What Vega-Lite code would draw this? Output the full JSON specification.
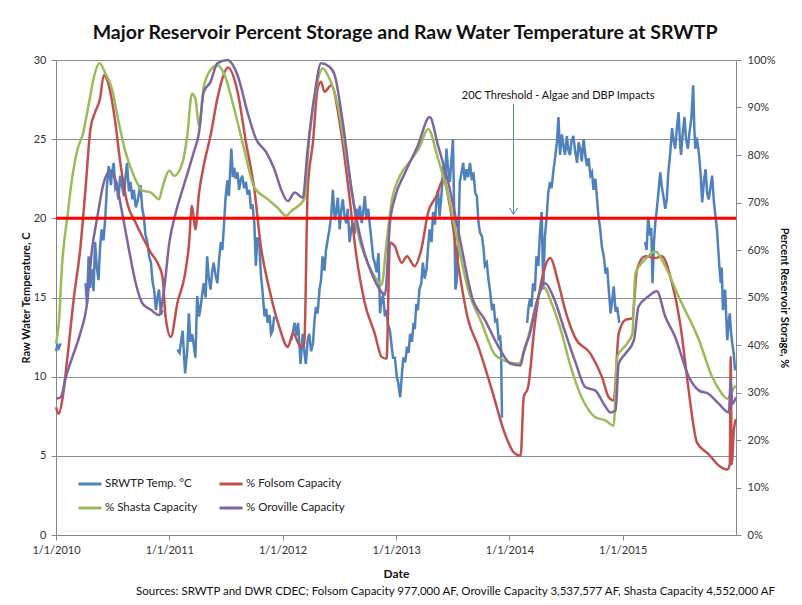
{
  "$schema": "https://vega.github.io/schema/vega-lite/v6.json",
  "width": 802,
  "height": 605,
  "autosize": {"type": "fit", "contains": "padding"},
  "padding": {"left": 20, "right": 12, "top": 22, "bottom": 8},
  "background": "white",
  "config": {
    "font": "Lato",
    "view": {"stroke": null},
    "legend": {
      "orient": "none", "legendX": 21, "legendY": 411, "columns": 2, "direction": "horizontal",
      "symbolType": "stroke", "symbolSize": 529, "symbolStrokeWidth": 3,
      "labelFontSize": 11.5, "labelFont": "Lato", "labelColor": "#222222", "labelOffset": 2,
      "columnPadding": 15, "rowPadding": 5, "padding": 0, "title": null
    }
  },
  "title": {
    "text": "Major Reservoir Percent Storage and Raw Water Temperature at SRWTP",
    "font": "Lato", "fontSize": 19.5, "fontWeight": "bold", "color": "#111111",
    "anchor": "middle", "frame": "bounds", "offset": 11, "dx": 0
  },
  "datasets": {
    "temp": [
      {"date": "2010-01-01", "series": "SRWTP Temp. °C", "value": 11.6},
      {"date": "2010-01-05", "series": "SRWTP Temp. °C", "value": 12.0},
      {"date": "2010-01-10", "series": "SRWTP Temp. °C", "value": 11.8},
      {"date": "2010-01-16", "series": "SRWTP Temp. °C", "value": 12.1},
      {"date": "2010-02-15", "series": "SRWTP Temp. °C", "value": null},
      {"date": "2010-04-06", "series": "SRWTP Temp. °C", "value": 15.9},
      {"date": "2010-04-11", "series": "SRWTP Temp. °C", "value": 14.6},
      {"date": "2010-04-16", "series": "SRWTP Temp. °C", "value": 17.6},
      {"date": "2010-04-21", "series": "SRWTP Temp. °C", "value": 15.6},
      {"date": "2010-04-27", "series": "SRWTP Temp. °C", "value": 16.8},
      {"date": "2010-05-02", "series": "SRWTP Temp. °C", "value": 15.4},
      {"date": "2010-05-07", "series": "SRWTP Temp. °C", "value": 18.5},
      {"date": "2010-05-12", "series": "SRWTP Temp. °C", "value": 17.0},
      {"date": "2010-05-18", "series": "SRWTP Temp. °C", "value": 16.1},
      {"date": "2010-05-23", "series": "SRWTP Temp. °C", "value": 18.2},
      {"date": "2010-05-28", "series": "SRWTP Temp. °C", "value": 19.3},
      {"date": "2010-06-03", "series": "SRWTP Temp. °C", "value": 18.6},
      {"date": "2010-06-09", "series": "SRWTP Temp. °C", "value": 20.1},
      {"date": "2010-06-14", "series": "SRWTP Temp. °C", "value": 22.0},
      {"date": "2010-06-20", "series": "SRWTP Temp. °C", "value": 23.3},
      {"date": "2010-06-27", "series": "SRWTP Temp. °C", "value": 22.1},
      {"date": "2010-07-01", "series": "SRWTP Temp. °C", "value": 23.0},
      {"date": "2010-07-06", "series": "SRWTP Temp. °C", "value": 23.5},
      {"date": "2010-07-11", "series": "SRWTP Temp. °C", "value": 21.9},
      {"date": "2010-07-16", "series": "SRWTP Temp. °C", "value": 22.1},
      {"date": "2010-07-21", "series": "SRWTP Temp. °C", "value": 21.2},
      {"date": "2010-07-27", "series": "SRWTP Temp. °C", "value": 22.7},
      {"date": "2010-08-02", "series": "SRWTP Temp. °C", "value": 22.0},
      {"date": "2010-08-08", "series": "SRWTP Temp. °C", "value": 21.4},
      {"date": "2010-08-13", "series": "SRWTP Temp. °C", "value": 22.6},
      {"date": "2010-08-18", "series": "SRWTP Temp. °C", "value": 23.5},
      {"date": "2010-08-24", "series": "SRWTP Temp. °C", "value": 21.7},
      {"date": "2010-08-29", "series": "SRWTP Temp. °C", "value": 22.3},
      {"date": "2010-09-04", "series": "SRWTP Temp. °C", "value": 21.2},
      {"date": "2010-09-09", "series": "SRWTP Temp. °C", "value": 21.8},
      {"date": "2010-09-15", "series": "SRWTP Temp. °C", "value": 20.7},
      {"date": "2010-09-20", "series": "SRWTP Temp. °C", "value": 21.0},
      {"date": "2010-09-30", "series": "SRWTP Temp. °C", "value": 22.1},
      {"date": "2010-10-06", "series": "SRWTP Temp. °C", "value": 20.6},
      {"date": "2010-10-11", "series": "SRWTP Temp. °C", "value": 20.1},
      {"date": "2010-10-16", "series": "SRWTP Temp. °C", "value": 19.0},
      {"date": "2010-10-22", "series": "SRWTP Temp. °C", "value": 18.5},
      {"date": "2010-10-28", "series": "SRWTP Temp. °C", "value": 17.6},
      {"date": "2010-11-03", "series": "SRWTP Temp. °C", "value": 17.2},
      {"date": "2010-11-08", "series": "SRWTP Temp. °C", "value": 16.0},
      {"date": "2010-11-13", "series": "SRWTP Temp. °C", "value": 15.5},
      {"date": "2010-11-19", "series": "SRWTP Temp. °C", "value": 14.2},
      {"date": "2010-11-24", "series": "SRWTP Temp. °C", "value": 15.0},
      {"date": "2010-11-29", "series": "SRWTP Temp. °C", "value": 15.5},
      {"date": "2010-12-05", "series": "SRWTP Temp. °C", "value": 13.9},
      {"date": "2010-12-10", "series": "SRWTP Temp. °C", "value": 14.2},
      {"date": "2010-12-25", "series": "SRWTP Temp. °C", "value": null},
      {"date": "2011-01-27", "series": "SRWTP Temp. °C", "value": 11.7},
      {"date": "2011-02-03", "series": "SRWTP Temp. °C", "value": 11.5},
      {"date": "2011-02-08", "series": "SRWTP Temp. °C", "value": 12.2},
      {"date": "2011-02-13", "series": "SRWTP Temp. °C", "value": 12.9},
      {"date": "2011-02-21", "series": "SRWTP Temp. °C", "value": 10.2},
      {"date": "2011-02-28", "series": "SRWTP Temp. °C", "value": 11.7},
      {"date": "2011-03-05", "series": "SRWTP Temp. °C", "value": 14.0},
      {"date": "2011-03-10", "series": "SRWTP Temp. °C", "value": 12.2},
      {"date": "2011-03-15", "series": "SRWTP Temp. °C", "value": 12.7},
      {"date": "2011-03-21", "series": "SRWTP Temp. °C", "value": 12.0},
      {"date": "2011-03-26", "series": "SRWTP Temp. °C", "value": 11.2},
      {"date": "2011-04-01", "series": "SRWTP Temp. °C", "value": 15.1},
      {"date": "2011-04-07", "series": "SRWTP Temp. °C", "value": 13.8},
      {"date": "2011-04-12", "series": "SRWTP Temp. °C", "value": 14.4},
      {"date": "2011-04-17", "series": "SRWTP Temp. °C", "value": 15.2},
      {"date": "2011-04-22", "series": "SRWTP Temp. °C", "value": 15.9},
      {"date": "2011-04-28", "series": "SRWTP Temp. °C", "value": 15.0},
      {"date": "2011-05-03", "series": "SRWTP Temp. °C", "value": 17.6},
      {"date": "2011-05-08", "series": "SRWTP Temp. °C", "value": 16.3},
      {"date": "2011-05-14", "series": "SRWTP Temp. °C", "value": 15.5},
      {"date": "2011-05-19", "series": "SRWTP Temp. °C", "value": 16.6},
      {"date": "2011-05-24", "series": "SRWTP Temp. °C", "value": 17.2},
      {"date": "2011-05-30", "series": "SRWTP Temp. °C", "value": 16.4},
      {"date": "2011-06-05", "series": "SRWTP Temp. °C", "value": 15.9},
      {"date": "2011-06-10", "series": "SRWTP Temp. °C", "value": 17.3},
      {"date": "2011-06-16", "series": "SRWTP Temp. °C", "value": 18.5},
      {"date": "2011-06-21", "series": "SRWTP Temp. °C", "value": 18.0},
      {"date": "2011-06-26", "series": "SRWTP Temp. °C", "value": 19.5},
      {"date": "2011-07-01", "series": "SRWTP Temp. °C", "value": 21.2},
      {"date": "2011-07-07", "series": "SRWTP Temp. °C", "value": 22.4},
      {"date": "2011-07-12", "series": "SRWTP Temp. °C", "value": 21.4},
      {"date": "2011-07-20", "series": "SRWTP Temp. °C", "value": 24.4},
      {"date": "2011-07-25", "series": "SRWTP Temp. °C", "value": 22.6},
      {"date": "2011-07-29", "series": "SRWTP Temp. °C", "value": 23.2},
      {"date": "2011-08-03", "series": "SRWTP Temp. °C", "value": 22.5},
      {"date": "2011-08-09", "series": "SRWTP Temp. °C", "value": 22.9},
      {"date": "2011-08-14", "series": "SRWTP Temp. °C", "value": 21.8},
      {"date": "2011-08-19", "series": "SRWTP Temp. °C", "value": 22.4},
      {"date": "2011-08-24", "series": "SRWTP Temp. °C", "value": 22.7},
      {"date": "2011-08-30", "series": "SRWTP Temp. °C", "value": 21.9},
      {"date": "2011-09-05", "series": "SRWTP Temp. °C", "value": 22.3},
      {"date": "2011-09-10", "series": "SRWTP Temp. °C", "value": 21.5},
      {"date": "2011-09-16", "series": "SRWTP Temp. °C", "value": 21.8},
      {"date": "2011-09-21", "series": "SRWTP Temp. °C", "value": 20.6},
      {"date": "2011-09-26", "series": "SRWTP Temp. °C", "value": 20.9},
      {"date": "2011-10-02", "series": "SRWTP Temp. °C", "value": 19.7},
      {"date": "2011-10-07", "series": "SRWTP Temp. °C", "value": 17.0},
      {"date": "2011-10-12", "series": "SRWTP Temp. °C", "value": 18.8},
      {"date": "2011-10-18", "series": "SRWTP Temp. °C", "value": 18.5},
      {"date": "2011-10-23", "series": "SRWTP Temp. °C", "value": 16.5},
      {"date": "2011-10-28", "series": "SRWTP Temp. °C", "value": 15.5},
      {"date": "2011-11-04", "series": "SRWTP Temp. °C", "value": 13.8},
      {"date": "2011-11-09", "series": "SRWTP Temp. °C", "value": 14.3},
      {"date": "2011-11-14", "series": "SRWTP Temp. °C", "value": 13.4},
      {"date": "2011-11-20", "series": "SRWTP Temp. °C", "value": 13.9},
      {"date": "2011-11-25", "series": "SRWTP Temp. °C", "value": 12.7},
      {"date": "2011-11-30", "series": "SRWTP Temp. °C", "value": 12.9},
      {"date": "2011-12-05", "series": "SRWTP Temp. °C", "value": 13.8},
      {"date": "2011-12-20", "series": "SRWTP Temp. °C", "value": null},
      {"date": "2012-01-29", "series": "SRWTP Temp. °C", "value": 12.3},
      {"date": "2012-02-04", "series": "SRWTP Temp. °C", "value": 12.9},
      {"date": "2012-02-09", "series": "SRWTP Temp. °C", "value": 13.4},
      {"date": "2012-02-14", "series": "SRWTP Temp. °C", "value": 12.6},
      {"date": "2012-02-20", "series": "SRWTP Temp. °C", "value": 13.4},
      {"date": "2012-02-28", "series": "SRWTP Temp. °C", "value": 10.8},
      {"date": "2012-03-06", "series": "SRWTP Temp. °C", "value": 12.7},
      {"date": "2012-03-11", "series": "SRWTP Temp. °C", "value": 11.6},
      {"date": "2012-03-16", "series": "SRWTP Temp. °C", "value": 10.8},
      {"date": "2012-03-22", "series": "SRWTP Temp. °C", "value": 12.3},
      {"date": "2012-03-27", "series": "SRWTP Temp. °C", "value": 12.7},
      {"date": "2012-04-02", "series": "SRWTP Temp. °C", "value": 11.6},
      {"date": "2012-04-08", "series": "SRWTP Temp. °C", "value": 12.1},
      {"date": "2012-04-13", "series": "SRWTP Temp. °C", "value": 13.6},
      {"date": "2012-04-18", "series": "SRWTP Temp. °C", "value": 14.4},
      {"date": "2012-04-23", "series": "SRWTP Temp. °C", "value": 14.0},
      {"date": "2012-04-29", "series": "SRWTP Temp. °C", "value": 15.5},
      {"date": "2012-05-04", "series": "SRWTP Temp. °C", "value": 16.1},
      {"date": "2012-05-09", "series": "SRWTP Temp. °C", "value": 17.6},
      {"date": "2012-05-15", "series": "SRWTP Temp. °C", "value": 16.7},
      {"date": "2012-05-20", "series": "SRWTP Temp. °C", "value": 18.0},
      {"date": "2012-05-25", "series": "SRWTP Temp. °C", "value": 18.6},
      {"date": "2012-05-31", "series": "SRWTP Temp. °C", "value": 19.3},
      {"date": "2012-06-06", "series": "SRWTP Temp. °C", "value": 20.2},
      {"date": "2012-06-11", "series": "SRWTP Temp. °C", "value": 21.8},
      {"date": "2012-06-17", "series": "SRWTP Temp. °C", "value": 19.9},
      {"date": "2012-06-22", "series": "SRWTP Temp. °C", "value": 20.4},
      {"date": "2012-06-27", "series": "SRWTP Temp. °C", "value": 21.3},
      {"date": "2012-07-03", "series": "SRWTP Temp. °C", "value": 19.3},
      {"date": "2012-07-08", "series": "SRWTP Temp. °C", "value": 20.5},
      {"date": "2012-07-13", "series": "SRWTP Temp. °C", "value": 21.2},
      {"date": "2012-07-19", "series": "SRWTP Temp. °C", "value": 20.1},
      {"date": "2012-07-24", "series": "SRWTP Temp. °C", "value": 19.7},
      {"date": "2012-07-29", "series": "SRWTP Temp. °C", "value": 20.6},
      {"date": "2012-08-04", "series": "SRWTP Temp. °C", "value": 18.5},
      {"date": "2012-08-10", "series": "SRWTP Temp. °C", "value": 19.4},
      {"date": "2012-08-15", "series": "SRWTP Temp. °C", "value": 19.7},
      {"date": "2012-08-20", "series": "SRWTP Temp. °C", "value": 19.0},
      {"date": "2012-08-26", "series": "SRWTP Temp. °C", "value": 20.6},
      {"date": "2012-09-01", "series": "SRWTP Temp. °C", "value": 20.0},
      {"date": "2012-09-06", "series": "SRWTP Temp. °C", "value": 20.8},
      {"date": "2012-09-12", "series": "SRWTP Temp. °C", "value": 19.7},
      {"date": "2012-09-17", "series": "SRWTP Temp. °C", "value": 20.4},
      {"date": "2012-09-22", "series": "SRWTP Temp. °C", "value": 21.4},
      {"date": "2012-09-27", "series": "SRWTP Temp. °C", "value": 20.0},
      {"date": "2012-10-03", "series": "SRWTP Temp. °C", "value": 20.6},
      {"date": "2012-10-08", "series": "SRWTP Temp. °C", "value": 19.6},
      {"date": "2012-10-14", "series": "SRWTP Temp. °C", "value": 18.5},
      {"date": "2012-10-19", "series": "SRWTP Temp. °C", "value": 17.5},
      {"date": "2012-10-24", "series": "SRWTP Temp. °C", "value": 17.2},
      {"date": "2012-10-30", "series": "SRWTP Temp. °C", "value": 16.6},
      {"date": "2012-11-05", "series": "SRWTP Temp. °C", "value": 17.8},
      {"date": "2012-11-10", "series": "SRWTP Temp. °C", "value": 14.0},
      {"date": "2012-11-15", "series": "SRWTP Temp. °C", "value": 14.9},
      {"date": "2012-11-20", "series": "SRWTP Temp. °C", "value": 15.1},
      {"date": "2012-11-26", "series": "SRWTP Temp. °C", "value": 13.8},
      {"date": "2012-12-01", "series": "SRWTP Temp. °C", "value": 14.2},
      {"date": "2012-12-06", "series": "SRWTP Temp. °C", "value": 13.3},
      {"date": "2012-12-12", "series": "SRWTP Temp. °C", "value": 12.9},
      {"date": "2012-12-17", "series": "SRWTP Temp. °C", "value": 12.0},
      {"date": "2012-12-22", "series": "SRWTP Temp. °C", "value": 11.2},
      {"date": "2012-12-28", "series": "SRWTP Temp. °C", "value": 11.2},
      {"date": "2013-01-03", "series": "SRWTP Temp. °C", "value": 10.0},
      {"date": "2013-01-08", "series": "SRWTP Temp. °C", "value": 9.6},
      {"date": "2013-01-14", "series": "SRWTP Temp. °C", "value": 8.7},
      {"date": "2013-01-19", "series": "SRWTP Temp. °C", "value": 10.0},
      {"date": "2013-01-24", "series": "SRWTP Temp. °C", "value": 11.2},
      {"date": "2013-01-30", "series": "SRWTP Temp. °C", "value": 10.9},
      {"date": "2013-02-05", "series": "SRWTP Temp. °C", "value": 11.9},
      {"date": "2013-02-10", "series": "SRWTP Temp. °C", "value": 11.5},
      {"date": "2013-02-15", "series": "SRWTP Temp. °C", "value": 12.7},
      {"date": "2013-02-21", "series": "SRWTP Temp. °C", "value": 12.2},
      {"date": "2013-02-26", "series": "SRWTP Temp. °C", "value": 13.4},
      {"date": "2013-03-02", "series": "SRWTP Temp. °C", "value": 13.0},
      {"date": "2013-03-07", "series": "SRWTP Temp. °C", "value": 14.6},
      {"date": "2013-03-12", "series": "SRWTP Temp. °C", "value": 14.2},
      {"date": "2013-03-17", "series": "SRWTP Temp. °C", "value": 15.5},
      {"date": "2013-03-23", "series": "SRWTP Temp. °C", "value": 15.9},
      {"date": "2013-03-28", "series": "SRWTP Temp. °C", "value": 17.2},
      {"date": "2013-04-03", "series": "SRWTP Temp. °C", "value": 16.2},
      {"date": "2013-04-09", "series": "SRWTP Temp. °C", "value": 16.8},
      {"date": "2013-04-14", "series": "SRWTP Temp. °C", "value": 18.2},
      {"date": "2013-04-19", "series": "SRWTP Temp. °C", "value": 19.3},
      {"date": "2013-04-25", "series": "SRWTP Temp. °C", "value": 18.5},
      {"date": "2013-04-30", "series": "SRWTP Temp. °C", "value": 20.4},
      {"date": "2013-05-06", "series": "SRWTP Temp. °C", "value": 19.6},
      {"date": "2013-05-11", "series": "SRWTP Temp. °C", "value": 21.2},
      {"date": "2013-05-16", "series": "SRWTP Temp. °C", "value": 21.8},
      {"date": "2013-05-21", "series": "SRWTP Temp. °C", "value": 20.1},
      {"date": "2013-05-27", "series": "SRWTP Temp. °C", "value": 21.5},
      {"date": "2013-06-02", "series": "SRWTP Temp. °C", "value": 23.3},
      {"date": "2013-06-07", "series": "SRWTP Temp. °C", "value": 22.2},
      {"date": "2013-06-12", "series": "SRWTP Temp. °C", "value": 24.4},
      {"date": "2013-06-18", "series": "SRWTP Temp. °C", "value": 23.0},
      {"date": "2013-06-23", "series": "SRWTP Temp. °C", "value": 22.3},
      {"date": "2013-06-28", "series": "SRWTP Temp. °C", "value": 23.7},
      {"date": "2013-07-03", "series": "SRWTP Temp. °C", "value": 25.0},
      {"date": "2013-07-07", "series": "SRWTP Temp. °C", "value": 20.5},
      {"date": "2013-07-11", "series": "SRWTP Temp. °C", "value": 15.5},
      {"date": "2013-07-15", "series": "SRWTP Temp. °C", "value": 16.0},
      {"date": "2013-07-19", "series": "SRWTP Temp. °C", "value": 17.6},
      {"date": "2013-07-25", "series": "SRWTP Temp. °C", "value": 22.3},
      {"date": "2013-07-30", "series": "SRWTP Temp. °C", "value": 22.8},
      {"date": "2013-08-05", "series": "SRWTP Temp. °C", "value": 23.5},
      {"date": "2013-08-10", "series": "SRWTP Temp. °C", "value": 22.4},
      {"date": "2013-08-16", "series": "SRWTP Temp. °C", "value": 23.1},
      {"date": "2013-08-21", "series": "SRWTP Temp. °C", "value": 22.6},
      {"date": "2013-08-27", "series": "SRWTP Temp. °C", "value": 23.5},
      {"date": "2013-09-02", "series": "SRWTP Temp. °C", "value": 22.4},
      {"date": "2013-09-07", "series": "SRWTP Temp. °C", "value": 22.9},
      {"date": "2013-09-13", "series": "SRWTP Temp. °C", "value": 21.6},
      {"date": "2013-09-18", "series": "SRWTP Temp. °C", "value": 21.4},
      {"date": "2013-09-23", "series": "SRWTP Temp. °C", "value": 19.8},
      {"date": "2013-09-28", "series": "SRWTP Temp. °C", "value": 19.1},
      {"date": "2013-10-04", "series": "SRWTP Temp. °C", "value": 18.9},
      {"date": "2013-10-09", "series": "SRWTP Temp. °C", "value": 18.2},
      {"date": "2013-10-14", "series": "SRWTP Temp. °C", "value": 17.0},
      {"date": "2013-10-20", "series": "SRWTP Temp. °C", "value": 17.2},
      {"date": "2013-10-25", "series": "SRWTP Temp. °C", "value": 16.2},
      {"date": "2013-10-30", "series": "SRWTP Temp. °C", "value": 15.5},
      {"date": "2013-11-06", "series": "SRWTP Temp. °C", "value": 14.2},
      {"date": "2013-11-11", "series": "SRWTP Temp. °C", "value": 14.6},
      {"date": "2013-11-16", "series": "SRWTP Temp. °C", "value": 13.5},
      {"date": "2013-11-22", "series": "SRWTP Temp. °C", "value": 13.6},
      {"date": "2013-11-27", "series": "SRWTP Temp. °C", "value": 12.4},
      {"date": "2013-12-02", "series": "SRWTP Temp. °C", "value": 12.5},
      {"date": "2013-12-05", "series": "SRWTP Temp. °C", "value": 11.8},
      {"date": "2013-12-08", "series": "SRWTP Temp. °C", "value": 7.4},
      {"date": "2014-01-15", "series": "SRWTP Temp. °C", "value": null},
      {"date": "2014-02-27", "series": "SRWTP Temp. °C", "value": 13.4},
      {"date": "2014-03-03", "series": "SRWTP Temp. °C", "value": 14.3},
      {"date": "2014-03-08", "series": "SRWTP Temp. °C", "value": 14.9},
      {"date": "2014-03-13", "series": "SRWTP Temp. °C", "value": 14.4},
      {"date": "2014-03-18", "series": "SRWTP Temp. °C", "value": 15.9},
      {"date": "2014-03-24", "series": "SRWTP Temp. °C", "value": 15.4},
      {"date": "2014-03-29", "series": "SRWTP Temp. °C", "value": 17.6},
      {"date": "2014-04-04", "series": "SRWTP Temp. °C", "value": 17.0},
      {"date": "2014-04-10", "series": "SRWTP Temp. °C", "value": 19.3},
      {"date": "2014-04-15", "series": "SRWTP Temp. °C", "value": 20.4},
      {"date": "2014-04-20", "series": "SRWTP Temp. °C", "value": 15.5},
      {"date": "2014-04-25", "series": "SRWTP Temp. °C", "value": 18.8},
      {"date": "2014-05-01", "series": "SRWTP Temp. °C", "value": 20.1},
      {"date": "2014-05-06", "series": "SRWTP Temp. °C", "value": 21.6},
      {"date": "2014-05-12", "series": "SRWTP Temp. °C", "value": 22.3},
      {"date": "2014-05-17", "series": "SRWTP Temp. °C", "value": 21.9},
      {"date": "2014-05-22", "series": "SRWTP Temp. °C", "value": 22.9},
      {"date": "2014-05-28", "series": "SRWTP Temp. °C", "value": 23.8},
      {"date": "2014-06-03", "series": "SRWTP Temp. °C", "value": 24.8},
      {"date": "2014-06-08", "series": "SRWTP Temp. °C", "value": 26.4},
      {"date": "2014-06-13", "series": "SRWTP Temp. °C", "value": 24.0},
      {"date": "2014-06-19", "series": "SRWTP Temp. °C", "value": 25.3},
      {"date": "2014-06-24", "series": "SRWTP Temp. °C", "value": 24.6},
      {"date": "2014-06-29", "series": "SRWTP Temp. °C", "value": 24.0},
      {"date": "2014-07-05", "series": "SRWTP Temp. °C", "value": 25.2},
      {"date": "2014-07-10", "series": "SRWTP Temp. °C", "value": 24.3},
      {"date": "2014-07-15", "series": "SRWTP Temp. °C", "value": 24.0},
      {"date": "2014-07-20", "series": "SRWTP Temp. °C", "value": 24.9},
      {"date": "2014-07-26", "series": "SRWTP Temp. °C", "value": 25.2},
      {"date": "2014-08-01", "series": "SRWTP Temp. °C", "value": 24.2},
      {"date": "2014-08-07", "series": "SRWTP Temp. °C", "value": 23.5},
      {"date": "2014-08-12", "series": "SRWTP Temp. °C", "value": 24.8},
      {"date": "2014-08-17", "series": "SRWTP Temp. °C", "value": 24.4},
      {"date": "2014-08-22", "series": "SRWTP Temp. °C", "value": 23.6},
      {"date": "2014-08-28", "series": "SRWTP Temp. °C", "value": 25.0},
      {"date": "2014-09-03", "series": "SRWTP Temp. °C", "value": 23.9},
      {"date": "2014-09-08", "series": "SRWTP Temp. °C", "value": 23.3},
      {"date": "2014-09-13", "series": "SRWTP Temp. °C", "value": 23.8},
      {"date": "2014-09-19", "series": "SRWTP Temp. °C", "value": 22.7},
      {"date": "2014-09-24", "series": "SRWTP Temp. °C", "value": 22.9},
      {"date": "2014-09-29", "series": "SRWTP Temp. °C", "value": 21.8},
      {"date": "2014-10-05", "series": "SRWTP Temp. °C", "value": 22.5},
      {"date": "2014-10-10", "series": "SRWTP Temp. °C", "value": 21.3},
      {"date": "2014-10-15", "series": "SRWTP Temp. °C", "value": 20.1},
      {"date": "2014-10-20", "series": "SRWTP Temp. °C", "value": 19.4},
      {"date": "2014-10-26", "series": "SRWTP Temp. °C", "value": 18.2},
      {"date": "2014-11-01", "series": "SRWTP Temp. °C", "value": 17.6},
      {"date": "2014-11-07", "series": "SRWTP Temp. °C", "value": 16.5},
      {"date": "2014-11-12", "series": "SRWTP Temp. °C", "value": 16.9},
      {"date": "2014-11-17", "series": "SRWTP Temp. °C", "value": 15.5},
      {"date": "2014-11-23", "series": "SRWTP Temp. °C", "value": 14.0},
      {"date": "2014-11-28", "series": "SRWTP Temp. °C", "value": 14.8},
      {"date": "2014-12-03", "series": "SRWTP Temp. °C", "value": 15.7},
      {"date": "2014-12-09", "series": "SRWTP Temp. °C", "value": 14.1},
      {"date": "2014-12-14", "series": "SRWTP Temp. °C", "value": 14.4},
      {"date": "2014-12-21", "series": "SRWTP Temp. °C", "value": 13.4},
      {"date": "2015-02-01", "series": "SRWTP Temp. °C", "value": null},
      {"date": "2015-03-14", "series": "SRWTP Temp. °C", "value": 18.5},
      {"date": "2015-03-19", "series": "SRWTP Temp. °C", "value": 18.0},
      {"date": "2015-03-24", "series": "SRWTP Temp. °C", "value": 20.1},
      {"date": "2015-03-30", "series": "SRWTP Temp. °C", "value": 18.9},
      {"date": "2015-04-03", "series": "SRWTP Temp. °C", "value": 19.4},
      {"date": "2015-04-07", "series": "SRWTP Temp. °C", "value": 15.9},
      {"date": "2015-04-12", "series": "SRWTP Temp. °C", "value": 18.6},
      {"date": "2015-04-16", "series": "SRWTP Temp. °C", "value": 19.7},
      {"date": "2015-04-20", "series": "SRWTP Temp. °C", "value": 20.4},
      {"date": "2015-04-24", "series": "SRWTP Temp. °C", "value": 21.2},
      {"date": "2015-05-02", "series": "SRWTP Temp. °C", "value": 22.9},
      {"date": "2015-05-07", "series": "SRWTP Temp. °C", "value": 22.0},
      {"date": "2015-05-12", "series": "SRWTP Temp. °C", "value": 21.4},
      {"date": "2015-05-18", "series": "SRWTP Temp. °C", "value": 20.6},
      {"date": "2015-05-23", "series": "SRWTP Temp. °C", "value": 21.2},
      {"date": "2015-05-28", "series": "SRWTP Temp. °C", "value": 22.9},
      {"date": "2015-06-03", "series": "SRWTP Temp. °C", "value": 24.1},
      {"date": "2015-06-09", "series": "SRWTP Temp. °C", "value": 25.7},
      {"date": "2015-06-14", "series": "SRWTP Temp. °C", "value": 24.9},
      {"date": "2015-06-19", "series": "SRWTP Temp. °C", "value": 24.4},
      {"date": "2015-06-24", "series": "SRWTP Temp. °C", "value": 25.6},
      {"date": "2015-06-30", "series": "SRWTP Temp. °C", "value": 26.7},
      {"date": "2015-07-05", "series": "SRWTP Temp. °C", "value": 24.6},
      {"date": "2015-07-08", "series": "SRWTP Temp. °C", "value": 24.0},
      {"date": "2015-07-13", "series": "SRWTP Temp. °C", "value": 25.3},
      {"date": "2015-07-19", "series": "SRWTP Temp. °C", "value": 26.4},
      {"date": "2015-07-24", "series": "SRWTP Temp. °C", "value": 25.0},
      {"date": "2015-07-30", "series": "SRWTP Temp. °C", "value": 24.4},
      {"date": "2015-08-04", "series": "SRWTP Temp. °C", "value": 25.4},
      {"date": "2015-08-10", "series": "SRWTP Temp. °C", "value": 26.3},
      {"date": "2015-08-16", "series": "SRWTP Temp. °C", "value": 28.4},
      {"date": "2015-08-20", "series": "SRWTP Temp. °C", "value": 25.5},
      {"date": "2015-08-23", "series": "SRWTP Temp. °C", "value": 24.4},
      {"date": "2015-08-28", "series": "SRWTP Temp. °C", "value": 25.1},
      {"date": "2015-09-04", "series": "SRWTP Temp. °C", "value": 24.0},
      {"date": "2015-09-09", "series": "SRWTP Temp. °C", "value": 22.8},
      {"date": "2015-09-14", "series": "SRWTP Temp. °C", "value": 21.0},
      {"date": "2015-09-20", "series": "SRWTP Temp. °C", "value": 22.4},
      {"date": "2015-09-25", "series": "SRWTP Temp. °C", "value": 23.1},
      {"date": "2015-09-30", "series": "SRWTP Temp. °C", "value": 21.6},
      {"date": "2015-10-05", "series": "SRWTP Temp. °C", "value": 21.2},
      {"date": "2015-10-11", "series": "SRWTP Temp. °C", "value": 22.0},
      {"date": "2015-10-16", "series": "SRWTP Temp. °C", "value": 22.7},
      {"date": "2015-10-22", "series": "SRWTP Temp. °C", "value": 21.0},
      {"date": "2015-10-27", "series": "SRWTP Temp. °C", "value": 20.1},
      {"date": "2015-11-01", "series": "SRWTP Temp. °C", "value": 19.2},
      {"date": "2015-11-05", "series": "SRWTP Temp. °C", "value": 18.0},
      {"date": "2015-11-09", "series": "SRWTP Temp. °C", "value": 16.8},
      {"date": "2015-11-13", "series": "SRWTP Temp. °C", "value": 15.9},
      {"date": "2015-11-16", "series": "SRWTP Temp. °C", "value": 16.9},
      {"date": "2015-11-20", "series": "SRWTP Temp. °C", "value": 14.2},
      {"date": "2015-11-27", "series": "SRWTP Temp. °C", "value": 15.5},
      {"date": "2015-12-01", "series": "SRWTP Temp. °C", "value": 13.6},
      {"date": "2015-12-04", "series": "SRWTP Temp. °C", "value": 12.3},
      {"date": "2015-12-08", "series": "SRWTP Temp. °C", "value": 13.4},
      {"date": "2015-12-12", "series": "SRWTP Temp. °C", "value": 14.0},
      {"date": "2015-12-16", "series": "SRWTP Temp. °C", "value": 12.8},
      {"date": "2015-12-20", "series": "SRWTP Temp. °C", "value": 12.1},
      {"date": "2015-12-25", "series": "SRWTP Temp. °C", "value": 11.4},
      {"date": "2015-12-29", "series": "SRWTP Temp. °C", "value": 10.4}
    ],
    "storage": [
      {"date": "2010-01-01", "series": "% Folsom Capacity", "value": 26.9},
      {"date": "2010-01-10", "series": "% Folsom Capacity", "value": 25.5},
      {"date": "2010-01-21", "series": "% Folsom Capacity", "value": 28.3},
      {"date": "2010-02-07", "series": "% Folsom Capacity", "value": 37.5},
      {"date": "2010-02-28", "series": "% Folsom Capacity", "value": 50.2},
      {"date": "2010-03-20", "series": "% Folsom Capacity", "value": 60.1},
      {"date": "2010-04-06", "series": "% Folsom Capacity", "value": 72.8},
      {"date": "2010-04-22", "series": "% Folsom Capacity", "value": 85.5},
      {"date": "2010-05-07", "series": "% Folsom Capacity", "value": 89.0},
      {"date": "2010-05-23", "series": "% Folsom Capacity", "value": 91.9},
      {"date": "2010-06-04", "series": "% Folsom Capacity", "value": 96.8},
      {"date": "2010-06-20", "series": "% Folsom Capacity", "value": 94.7},
      {"date": "2010-07-11", "series": "% Folsom Capacity", "value": 86.9},
      {"date": "2010-07-27", "series": "% Folsom Capacity", "value": 78.5},
      {"date": "2010-08-18", "series": "% Folsom Capacity", "value": 70.0},
      {"date": "2010-09-15", "series": "% Folsom Capacity", "value": 65.7},
      {"date": "2010-10-11", "series": "% Folsom Capacity", "value": 62.2},
      {"date": "2010-11-03", "series": "% Folsom Capacity", "value": 59.4},
      {"date": "2010-11-24", "series": "% Folsom Capacity", "value": 57.3},
      {"date": "2010-12-10", "series": "% Folsom Capacity", "value": 54.4},
      {"date": "2010-12-20", "series": "% Folsom Capacity", "value": 46.0},
      {"date": "2011-01-06", "series": "% Folsom Capacity", "value": 41.7},
      {"date": "2011-01-27", "series": "% Folsom Capacity", "value": 48.8},
      {"date": "2011-02-19", "series": "% Folsom Capacity", "value": 54.4},
      {"date": "2011-03-05", "series": "% Folsom Capacity", "value": 60.8},
      {"date": "2011-03-15", "series": "% Folsom Capacity", "value": 69.3},
      {"date": "2011-03-26", "series": "% Folsom Capacity", "value": 64.3},
      {"date": "2011-04-07", "series": "% Folsom Capacity", "value": 72.1},
      {"date": "2011-04-22", "series": "% Folsom Capacity", "value": 77.8},
      {"date": "2011-05-14", "series": "% Folsom Capacity", "value": 84.1},
      {"date": "2011-06-05", "series": "% Folsom Capacity", "value": 91.9},
      {"date": "2011-06-21", "series": "% Folsom Capacity", "value": 96.1},
      {"date": "2011-07-09", "series": "% Folsom Capacity", "value": 98.4},
      {"date": "2011-08-09", "series": "% Folsom Capacity", "value": 93.3},
      {"date": "2011-09-05", "series": "% Folsom Capacity", "value": 82.7},
      {"date": "2011-10-02", "series": "% Folsom Capacity", "value": 72.8},
      {"date": "2011-10-23", "series": "% Folsom Capacity", "value": 60.8},
      {"date": "2011-11-20", "series": "% Folsom Capacity", "value": 51.6},
      {"date": "2011-12-21", "series": "% Folsom Capacity", "value": 43.9},
      {"date": "2012-01-18", "series": "% Folsom Capacity", "value": 39.6},
      {"date": "2012-02-04", "series": "% Folsom Capacity", "value": 42.4},
      {"date": "2012-02-29", "series": "% Folsom Capacity", "value": 39.6},
      {"date": "2012-03-11", "series": "% Folsom Capacity", "value": 40.3},
      {"date": "2012-03-22", "series": "% Folsom Capacity", "value": 72.8},
      {"date": "2012-04-08", "series": "% Folsom Capacity", "value": 82.7},
      {"date": "2012-04-23", "series": "% Folsom Capacity", "value": 94.0},
      {"date": "2012-05-04", "series": "% Folsom Capacity", "value": 95.4},
      {"date": "2012-05-15", "series": "% Folsom Capacity", "value": 93.3},
      {"date": "2012-06-06", "series": "% Folsom Capacity", "value": 94.7},
      {"date": "2012-07-03", "series": "% Folsom Capacity", "value": 86.9},
      {"date": "2012-07-29", "series": "% Folsom Capacity", "value": 74.2},
      {"date": "2012-08-26", "series": "% Folsom Capacity", "value": 58.7},
      {"date": "2012-09-22", "series": "% Folsom Capacity", "value": 48.8},
      {"date": "2012-10-24", "series": "% Folsom Capacity", "value": 42.4},
      {"date": "2012-11-15", "series": "% Folsom Capacity", "value": 37.5},
      {"date": "2012-12-01", "series": "% Folsom Capacity", "value": 37.1},
      {"date": "2012-12-12", "series": "% Folsom Capacity", "value": 61.5},
      {"date": "2012-12-28", "series": "% Folsom Capacity", "value": 60.8},
      {"date": "2013-01-08", "series": "% Folsom Capacity", "value": 58.7},
      {"date": "2013-01-19", "series": "% Folsom Capacity", "value": 57.3},
      {"date": "2013-02-05", "series": "% Folsom Capacity", "value": 58.7},
      {"date": "2013-03-01", "series": "% Folsom Capacity", "value": 56.6},
      {"date": "2013-03-23", "series": "% Folsom Capacity", "value": 60.1},
      {"date": "2013-04-14", "series": "% Folsom Capacity", "value": 67.9},
      {"date": "2013-05-11", "series": "% Folsom Capacity", "value": 71.4},
      {"date": "2013-06-02", "series": "% Folsom Capacity", "value": 74.9},
      {"date": "2013-06-23", "series": "% Folsom Capacity", "value": 69.3},
      {"date": "2013-07-19", "series": "% Folsom Capacity", "value": 57.3},
      {"date": "2013-08-21", "series": "% Folsom Capacity", "value": 45.3},
      {"date": "2013-09-23", "series": "% Folsom Capacity", "value": 39.6},
      {"date": "2013-11-06", "series": "% Folsom Capacity", "value": 30.4},
      {"date": "2013-12-18", "series": "% Folsom Capacity", "value": 21.2},
      {"date": "2014-01-15", "series": "% Folsom Capacity", "value": 17.4},
      {"date": "2014-02-06", "series": "% Folsom Capacity", "value": 16.7},
      {"date": "2014-02-16", "series": "% Folsom Capacity", "value": 29.0},
      {"date": "2014-03-02", "series": "% Folsom Capacity", "value": 31.1},
      {"date": "2014-03-24", "series": "% Folsom Capacity", "value": 44.6},
      {"date": "2014-04-20", "series": "% Folsom Capacity", "value": 55.1},
      {"date": "2014-05-12", "series": "% Folsom Capacity", "value": 58.3},
      {"date": "2014-06-08", "series": "% Folsom Capacity", "value": 53.0},
      {"date": "2014-06-29", "series": "% Folsom Capacity", "value": 47.5},
      {"date": "2014-08-01", "series": "% Folsom Capacity", "value": 41.5},
      {"date": "2014-09-19", "series": "% Folsom Capacity", "value": 38.2},
      {"date": "2014-10-26", "series": "% Folsom Capacity", "value": 33.3},
      {"date": "2014-11-17", "series": "% Folsom Capacity", "value": 29.0},
      {"date": "2014-12-03", "series": "% Folsom Capacity", "value": 28.3},
      {"date": "2014-12-19", "series": "% Folsom Capacity", "value": 42.4},
      {"date": "2015-01-10", "series": "% Folsom Capacity", "value": 45.3},
      {"date": "2015-02-01", "series": "% Folsom Capacity", "value": 45.6},
      {"date": "2015-02-16", "series": "% Folsom Capacity", "value": 55.9},
      {"date": "2015-03-14", "series": "% Folsom Capacity", "value": 58.7},
      {"date": "2015-04-16", "series": "% Folsom Capacity", "value": 58.3},
      {"date": "2015-05-07", "series": "% Folsom Capacity", "value": 58.7},
      {"date": "2015-06-09", "series": "% Folsom Capacity", "value": 53.0},
      {"date": "2015-07-05", "series": "% Folsom Capacity", "value": 44.6},
      {"date": "2015-07-27", "series": "% Folsom Capacity", "value": 33.3},
      {"date": "2015-08-13", "series": "% Folsom Capacity", "value": 24.8},
      {"date": "2015-08-28", "series": "% Folsom Capacity", "value": 19.5},
      {"date": "2015-10-05", "series": "% Folsom Capacity", "value": 17.0},
      {"date": "2015-11-07", "series": "% Folsom Capacity", "value": 14.6},
      {"date": "2015-12-04", "series": "% Folsom Capacity", "value": 13.8},
      {"date": "2015-12-12", "series": "% Folsom Capacity", "value": 14.9},
      {"date": "2015-12-15", "series": "% Folsom Capacity", "value": 37.5},
      {"date": "2015-12-18", "series": "% Folsom Capacity", "value": 14.9},
      {"date": "2015-12-25", "series": "% Folsom Capacity", "value": 22.0},
      {"date": "2016-01-01", "series": "% Folsom Capacity", "value": 24.4},

      {"date": "2010-01-01", "series": "% Shasta Capacity", "value": 40.3},
      {"date": "2010-01-10", "series": "% Shasta Capacity", "value": 44.6},
      {"date": "2010-01-21", "series": "% Shasta Capacity", "value": 57.3},
      {"date": "2010-02-07", "series": "% Shasta Capacity", "value": 67.2},
      {"date": "2010-02-23", "series": "% Shasta Capacity", "value": 75.6},
      {"date": "2010-03-09", "series": "% Shasta Capacity", "value": 80.6},
      {"date": "2010-03-30", "series": "% Shasta Capacity", "value": 84.8},
      {"date": "2010-04-16", "series": "% Shasta Capacity", "value": 90.5},
      {"date": "2010-05-02", "series": "% Shasta Capacity", "value": 96.1},
      {"date": "2010-05-21", "series": "% Shasta Capacity", "value": 99.3},
      {"date": "2010-06-09", "series": "% Shasta Capacity", "value": 97.2},
      {"date": "2010-06-30", "series": "% Shasta Capacity", "value": 94.0},
      {"date": "2010-07-22", "series": "% Shasta Capacity", "value": 86.9},
      {"date": "2010-08-13", "series": "% Shasta Capacity", "value": 80.6},
      {"date": "2010-09-09", "series": "% Shasta Capacity", "value": 75.6},
      {"date": "2010-10-06", "series": "% Shasta Capacity", "value": 72.5},
      {"date": "2010-11-03", "series": "% Shasta Capacity", "value": 72.1},
      {"date": "2010-11-29", "series": "% Shasta Capacity", "value": 70.7},
      {"date": "2010-12-10", "series": "% Shasta Capacity", "value": 73.2},
      {"date": "2011-01-01", "series": "% Shasta Capacity", "value": 76.7},
      {"date": "2011-01-17", "series": "% Shasta Capacity", "value": 75.6},
      {"date": "2011-02-13", "series": "% Shasta Capacity", "value": 78.5},
      {"date": "2011-02-28", "series": "% Shasta Capacity", "value": 84.1},
      {"date": "2011-03-15", "series": "% Shasta Capacity", "value": 92.9},
      {"date": "2011-03-26", "series": "% Shasta Capacity", "value": 91.9},
      {"date": "2011-04-07", "series": "% Shasta Capacity", "value": 86.2},
      {"date": "2011-04-22", "series": "% Shasta Capacity", "value": 94.3},
      {"date": "2011-05-14", "series": "% Shasta Capacity", "value": 97.9},
      {"date": "2011-06-05", "series": "% Shasta Capacity", "value": 98.9},
      {"date": "2011-06-26", "series": "% Shasta Capacity", "value": 97.2},
      {"date": "2011-07-28", "series": "% Shasta Capacity", "value": 90.0},
      {"date": "2011-08-30", "series": "% Shasta Capacity", "value": 81.3},
      {"date": "2011-10-02", "series": "% Shasta Capacity", "value": 73.2},
      {"date": "2011-11-14", "series": "% Shasta Capacity", "value": 70.7},
      {"date": "2011-12-16", "series": "% Shasta Capacity", "value": 68.9},
      {"date": "2012-01-13", "series": "% Shasta Capacity", "value": 67.2},
      {"date": "2012-01-29", "series": "% Shasta Capacity", "value": 68.2},
      {"date": "2012-03-11", "series": "% Shasta Capacity", "value": 70.7},
      {"date": "2012-03-27", "series": "% Shasta Capacity", "value": 83.4},
      {"date": "2012-04-18", "series": "% Shasta Capacity", "value": 94.0},
      {"date": "2012-05-09", "series": "% Shasta Capacity", "value": 98.2},
      {"date": "2012-05-31", "series": "% Shasta Capacity", "value": 96.1},
      {"date": "2012-06-27", "series": "% Shasta Capacity", "value": 90.5},
      {"date": "2012-07-24", "series": "% Shasta Capacity", "value": 79.9},
      {"date": "2012-08-15", "series": "% Shasta Capacity", "value": 70.7},
      {"date": "2012-08-31", "series": "% Shasta Capacity", "value": 63.6},
      {"date": "2012-09-22", "series": "% Shasta Capacity", "value": 58.7},
      {"date": "2012-10-24", "series": "% Shasta Capacity", "value": 54.4},
      {"date": "2012-11-15", "series": "% Shasta Capacity", "value": 52.7},
      {"date": "2012-12-01", "series": "% Shasta Capacity", "value": 61.5},
      {"date": "2012-12-17", "series": "% Shasta Capacity", "value": 70.0},
      {"date": "2013-01-08", "series": "% Shasta Capacity", "value": 74.9},
      {"date": "2013-01-19", "series": "% Shasta Capacity", "value": 76.3},
      {"date": "2013-02-21", "series": "% Shasta Capacity", "value": 79.2},
      {"date": "2013-03-17", "series": "% Shasta Capacity", "value": 81.6},
      {"date": "2013-04-14", "series": "% Shasta Capacity", "value": 85.5},
      {"date": "2013-05-16", "series": "% Shasta Capacity", "value": 79.2},
      {"date": "2013-06-18", "series": "% Shasta Capacity", "value": 71.4},
      {"date": "2013-07-19", "series": "% Shasta Capacity", "value": 61.5},
      {"date": "2013-08-21", "series": "% Shasta Capacity", "value": 51.6},
      {"date": "2013-10-04", "series": "% Shasta Capacity", "value": 44.6},
      {"date": "2013-11-16", "series": "% Shasta Capacity", "value": 37.9},
      {"date": "2013-12-29", "series": "% Shasta Capacity", "value": 36.4},
      {"date": "2014-01-31", "series": "% Shasta Capacity", "value": 36.1},
      {"date": "2014-02-22", "series": "% Shasta Capacity", "value": 39.6},
      {"date": "2014-03-24", "series": "% Shasta Capacity", "value": 47.4},
      {"date": "2014-04-20", "series": "% Shasta Capacity", "value": 52.3},
      {"date": "2014-05-17", "series": "% Shasta Capacity", "value": 48.8},
      {"date": "2014-06-19", "series": "% Shasta Capacity", "value": 42.4},
      {"date": "2014-07-15", "series": "% Shasta Capacity", "value": 36.0},
      {"date": "2014-08-12", "series": "% Shasta Capacity", "value": 30.5},
      {"date": "2014-10-05", "series": "% Shasta Capacity", "value": 24.8},
      {"date": "2014-11-07", "series": "% Shasta Capacity", "value": 24.1},
      {"date": "2014-12-03", "series": "% Shasta Capacity", "value": 23.0},
      {"date": "2014-12-14", "series": "% Shasta Capacity", "value": 37.5},
      {"date": "2015-01-15", "series": "% Shasta Capacity", "value": 40.3},
      {"date": "2015-02-01", "series": "% Shasta Capacity", "value": 42.4},
      {"date": "2015-02-11", "series": "% Shasta Capacity", "value": 55.1},
      {"date": "2015-03-14", "series": "% Shasta Capacity", "value": 58.0},
      {"date": "2015-04-16", "series": "% Shasta Capacity", "value": 59.7},
      {"date": "2015-05-18", "series": "% Shasta Capacity", "value": 56.6},
      {"date": "2015-06-30", "series": "% Shasta Capacity", "value": 50.2},
      {"date": "2015-09-04", "series": "% Shasta Capacity", "value": 41.0},
      {"date": "2015-10-16", "series": "% Shasta Capacity", "value": 33.3},
      {"date": "2015-11-13", "series": "% Shasta Capacity", "value": 30.1},
      {"date": "2015-12-04", "series": "% Shasta Capacity", "value": 28.7},
      {"date": "2015-12-20", "series": "% Shasta Capacity", "value": 30.4},
      {"date": "2015-12-31", "series": "% Shasta Capacity", "value": 31.5},

      {"date": "2010-01-01", "series": "% Oroville Capacity", "value": 28.7},
      {"date": "2010-01-16", "series": "% Oroville Capacity", "value": 29.0},
      {"date": "2010-02-02", "series": "% Oroville Capacity", "value": 33.3},
      {"date": "2010-02-23", "series": "% Oroville Capacity", "value": 37.5},
      {"date": "2010-03-20", "series": "% Oroville Capacity", "value": 42.4},
      {"date": "2010-04-11", "series": "% Oroville Capacity", "value": 48.8},
      {"date": "2010-04-27", "series": "% Oroville Capacity", "value": 60.1},
      {"date": "2010-05-13", "series": "% Oroville Capacity", "value": 66.5},
      {"date": "2010-06-04", "series": "% Oroville Capacity", "value": 74.2},
      {"date": "2010-06-25", "series": "% Oroville Capacity", "value": 76.7},
      {"date": "2010-07-11", "series": "% Oroville Capacity", "value": 74.9},
      {"date": "2010-08-02", "series": "% Oroville Capacity", "value": 67.9},
      {"date": "2010-08-24", "series": "% Oroville Capacity", "value": 60.1},
      {"date": "2010-09-15", "series": "% Oroville Capacity", "value": 53.0},
      {"date": "2010-10-06", "series": "% Oroville Capacity", "value": 48.8},
      {"date": "2010-11-03", "series": "% Oroville Capacity", "value": 47.4},
      {"date": "2010-11-29", "series": "% Oroville Capacity", "value": 46.3},
      {"date": "2010-12-15", "series": "% Oroville Capacity", "value": 51.6},
      {"date": "2011-01-01", "series": "% Oroville Capacity", "value": 61.5},
      {"date": "2011-01-22", "series": "% Oroville Capacity", "value": 67.9},
      {"date": "2011-02-13", "series": "% Oroville Capacity", "value": 72.8},
      {"date": "2011-03-05", "series": "% Oroville Capacity", "value": 77.1},
      {"date": "2011-03-21", "series": "% Oroville Capacity", "value": 80.6},
      {"date": "2011-04-07", "series": "% Oroville Capacity", "value": 84.8},
      {"date": "2011-04-22", "series": "% Oroville Capacity", "value": 93.3},
      {"date": "2011-05-14", "series": "% Oroville Capacity", "value": 95.4},
      {"date": "2011-06-05", "series": "% Oroville Capacity", "value": 99.3},
      {"date": "2011-07-07", "series": "% Oroville Capacity", "value": 100.0},
      {"date": "2011-08-09", "series": "% Oroville Capacity", "value": 96.8},
      {"date": "2011-09-10", "series": "% Oroville Capacity", "value": 89.0},
      {"date": "2011-10-07", "series": "% Oroville Capacity", "value": 83.4},
      {"date": "2011-11-09", "series": "% Oroville Capacity", "value": 80.6},
      {"date": "2011-12-05", "series": "% Oroville Capacity", "value": 77.1},
      {"date": "2011-12-27", "series": "% Oroville Capacity", "value": 72.8},
      {"date": "2012-01-18", "series": "% Oroville Capacity", "value": 70.3},
      {"date": "2012-02-09", "series": "% Oroville Capacity", "value": 72.1},
      {"date": "2012-03-06", "series": "% Oroville Capacity", "value": 71.0},
      {"date": "2012-03-22", "series": "% Oroville Capacity", "value": 81.3},
      {"date": "2012-04-13", "series": "% Oroville Capacity", "value": 92.6},
      {"date": "2012-05-04", "series": "% Oroville Capacity", "value": 99.3},
      {"date": "2012-05-31", "series": "% Oroville Capacity", "value": 98.6},
      {"date": "2012-06-17", "series": "% Oroville Capacity", "value": 96.8},
      {"date": "2012-07-13", "series": "% Oroville Capacity", "value": 86.9},
      {"date": "2012-08-10", "series": "% Oroville Capacity", "value": 72.8},
      {"date": "2012-09-12", "series": "% Oroville Capacity", "value": 61.5},
      {"date": "2012-10-14", "series": "% Oroville Capacity", "value": 55.1},
      {"date": "2012-11-10", "series": "% Oroville Capacity", "value": 51.6},
      {"date": "2012-11-26", "series": "% Oroville Capacity", "value": 50.6},
      {"date": "2012-12-12", "series": "% Oroville Capacity", "value": 65.7},
      {"date": "2012-12-28", "series": "% Oroville Capacity", "value": 71.0},
      {"date": "2013-01-30", "series": "% Oroville Capacity", "value": 76.3},
      {"date": "2013-03-12", "series": "% Oroville Capacity", "value": 82.0},
      {"date": "2013-04-19", "series": "% Oroville Capacity", "value": 88.0},
      {"date": "2013-05-16", "series": "% Oroville Capacity", "value": 82.0},
      {"date": "2013-06-23", "series": "% Oroville Capacity", "value": 72.8},
      {"date": "2013-07-30", "series": "% Oroville Capacity", "value": 60.8},
      {"date": "2013-09-02", "series": "% Oroville Capacity", "value": 50.2},
      {"date": "2013-10-14", "series": "% Oroville Capacity", "value": 45.3},
      {"date": "2013-11-27", "series": "% Oroville Capacity", "value": 39.6},
      {"date": "2014-01-04", "series": "% Oroville Capacity", "value": 36.1},
      {"date": "2014-02-06", "series": "% Oroville Capacity", "value": 35.7},
      {"date": "2014-02-16", "series": "% Oroville Capacity", "value": 38.6},
      {"date": "2014-03-08", "series": "% Oroville Capacity", "value": 42.4},
      {"date": "2014-03-29", "series": "% Oroville Capacity", "value": 48.8},
      {"date": "2014-04-26", "series": "% Oroville Capacity", "value": 53.0},
      {"date": "2014-05-22", "series": "% Oroville Capacity", "value": 50.2},
      {"date": "2014-06-29", "series": "% Oroville Capacity", "value": 42.8},
      {"date": "2014-08-01", "series": "% Oroville Capacity", "value": 36.5},
      {"date": "2014-09-03", "series": "% Oroville Capacity", "value": 31.1},
      {"date": "2014-10-05", "series": "% Oroville Capacity", "value": 30.4},
      {"date": "2014-11-01", "series": "% Oroville Capacity", "value": 27.6},
      {"date": "2014-11-23", "series": "% Oroville Capacity", "value": 25.8},
      {"date": "2014-12-09", "series": "% Oroville Capacity", "value": 26.2},
      {"date": "2014-12-19", "series": "% Oroville Capacity", "value": 36.1},
      {"date": "2015-01-10", "series": "% Oroville Capacity", "value": 38.2},
      {"date": "2015-02-06", "series": "% Oroville Capacity", "value": 41.0},
      {"date": "2015-02-21", "series": "% Oroville Capacity", "value": 48.1},
      {"date": "2015-03-24", "series": "% Oroville Capacity", "value": 50.2},
      {"date": "2015-04-21", "series": "% Oroville Capacity", "value": 51.3},
      {"date": "2015-05-18", "series": "% Oroville Capacity", "value": 46.0},
      {"date": "2015-06-19", "series": "% Oroville Capacity", "value": 41.7},
      {"date": "2015-08-02", "series": "% Oroville Capacity", "value": 33.3},
      {"date": "2015-09-04", "series": "% Oroville Capacity", "value": 30.4},
      {"date": "2015-10-05", "series": "% Oroville Capacity", "value": 29.7},
      {"date": "2015-11-07", "series": "% Oroville Capacity", "value": 27.6},
      {"date": "2015-12-09", "series": "% Oroville Capacity", "value": 25.8},
      {"date": "2015-12-15", "series": "% Oroville Capacity", "value": 32.6},
      {"date": "2015-12-20", "series": "% Oroville Capacity", "value": 27.6},
      {"date": "2016-01-01", "series": "% Oroville Capacity", "value": 29.0}
    ]
  },
  "layer": [
    {
      "data": {"name": "temp"},
      "mark": {"type": "line", "strokeWidth": 2.5, "invalid": "break-paths-filter-domains"},
      "encoding": {
        "x": {
          "field": "date", "type": "temporal",
          "scale": {"type": "utc", "domain": [{"year": 2010, "month": 1, "date": 1, "utc": true}, {"year": 2016, "month": 1, "date": 1, "utc": true}]},
          "axis": {
            "orient": "bottom",
            "title": "Date", "titleFontSize": 12, "titleFontWeight": "bold", "titleColor": "#111111", "titlePadding": 13,
            "values": [
              {"year": 2010, "month": 1, "date": 1, "utc": true},
              {"year": 2011, "month": 1, "date": 1, "utc": true},
              {"year": 2012, "month": 1, "date": 1, "utc": true},
              {"year": 2013, "month": 1, "date": 1, "utc": true},
              {"year": 2014, "month": 1, "date": 1, "utc": true},
              {"year": 2015, "month": 1, "date": 1, "utc": true}
            ],
            "labelExpr": "utcFormat(datum.value, '%-m/%-d/%Y')",
            "labelFontSize": 11, "labelColor": "#333333", "labelPadding": 4,
            "grid": false, "tickSize": 5, "tickColor": "#868686", "domainColor": "#868686", "labelFlush": false
          }
        },
        "y": {
          "field": "value", "type": "quantitative",
          "scale": {"domain": [0, 30], "nice": false},
          "axis": {
            "orient": "left",
            "title": "Raw Water Temperature, C", "titleFontSize": 11, "titleFontWeight": "bold", "titleColor": "#111111", "titlePadding": 2,
            "values": [0, 5, 10, 15, 20, 25, 30],
            "labelFontSize": 11, "labelColor": "#333333", "labelPadding": 5,
            "grid": true, "gridColor": "#8c8c8c", "gridWidth": 1,
            "tickSize": 5, "tickColor": "#868686", "domainColor": "#868686"
          }
        },
        "color": {
          "field": "series", "type": "nominal",
          "scale": {
            "domain": ["SRWTP Temp. °C", "% Folsom Capacity", "% Shasta Capacity", "% Oroville Capacity"],
            "range": ["#4F81BD", "#C0504D", "#9BBB59", "#8064A2"]
          }
        }
      }
    },
    {
      "data": {"name": "storage"},
      "mark": {"type": "line", "strokeWidth": 2.5, "interpolate": "monotone"},
      "encoding": {
        "x": {
          "field": "date", "type": "temporal",
          "scale": {"type": "utc", "domain": [{"year": 2010, "month": 1, "date": 1, "utc": true}, {"year": 2016, "month": 1, "date": 1, "utc": true}]},
          "axis": {
            "orient": "bottom",
            "title": "Sources: SRWTP and DWR CDEC; Folsom Capacity 977,000 AF, Oroville Capacity 3,537,577 AF, Shasta Capacity 4,552,000 AF",
            "titleFontSize": 11.5, "titleFontWeight": "normal", "titleColor": "#111111",
            "labels": false, "ticks": false, "domain": false, "grid": false,
            "titlePadding": 50, "titleX": 399, "titleAlign": "center"
          }
        },
        "y": {
          "field": "value", "type": "quantitative",
          "scale": {"domain": [0, 100], "nice": false},
          "axis": {
            "orient": "right",
            "title": "Percent Reservoir Storage, %", "titleFontSize": 11, "titleFontWeight": "bold", "titleColor": "#111111", "titlePadding": 4,
            "values": [0, 10, 20, 30, 40, 50, 60, 70, 80, 90, 100],
            "labelExpr": "datum.value + '%'",
            "labelFontSize": 11, "labelColor": "#333333", "labelPadding": 6,
            "grid": false, "tickSize": 5, "tickColor": "#868686", "domainColor": "#868686"
          }
        },
        "color": {
          "field": "series", "type": "nominal",
          "scale": {
            "domain": ["SRWTP Temp. °C", "% Folsom Capacity", "% Shasta Capacity", "% Oroville Capacity"],
            "range": ["#4F81BD", "#C0504D", "#9BBB59", "#8064A2"]
          }
        }
      }
    },
    {
      "data": {"values": [{}]},
      "layer": [
        {
          "mark": {"type": "rule", "color": "#FF0000", "strokeWidth": 3},
          "encoding": {
            "y": {"datum": 20, "type": "quantitative", "scale": {"domain": [0, 30], "nice": false}, "axis": null}
          }
        },
        {
          "mark": {"type": "text", "font": "Lato", "fontSize": 11, "color": "#111111", "align": "center", "baseline": "middle"},
          "encoding": {
            "x": {"datum": {"year": 2014, "month": 6, "date": 7, "utc": true}, "type": "temporal", "axis": null},
            "y": {"datum": 27.75, "type": "quantitative", "scale": {"domain": [0, 30], "nice": false}, "axis": null},
            "text": {"value": "20C Threshold - Algae and DBP Impacts"}
          }
        },
        {
          "mark": {"type": "rule", "color": "#4F81BD", "strokeWidth": 1},
          "encoding": {
            "x": {"datum": {"year": 2014, "month": 1, "date": 14, "utc": true}, "type": "temporal", "axis": null},
            "y": {"datum": 27.2, "type": "quantitative", "scale": {"domain": [0, 30], "nice": false}, "axis": null},
            "y2": {"datum": 20.25}
          }
        },
        {
          "mark": {"type": "point", "shape": "M-1,-1.6L0,0L1,-1.6", "filled": false, "stroke": "#4F81BD", "strokeWidth": 1, "size": 64, "opacity": 1},
          "encoding": {
            "x": {"datum": {"year": 2014, "month": 1, "date": 14, "utc": true}, "type": "temporal", "axis": null},
            "y": {"datum": 20.25, "type": "quantitative", "scale": {"domain": [0, 30], "nice": false}, "axis": null}
          }
        }
      ]
    }
  ],
  "resolve": {"scale": {"y": "independent"}, "axis": {"x": "independent", "y": "independent"}}
}
